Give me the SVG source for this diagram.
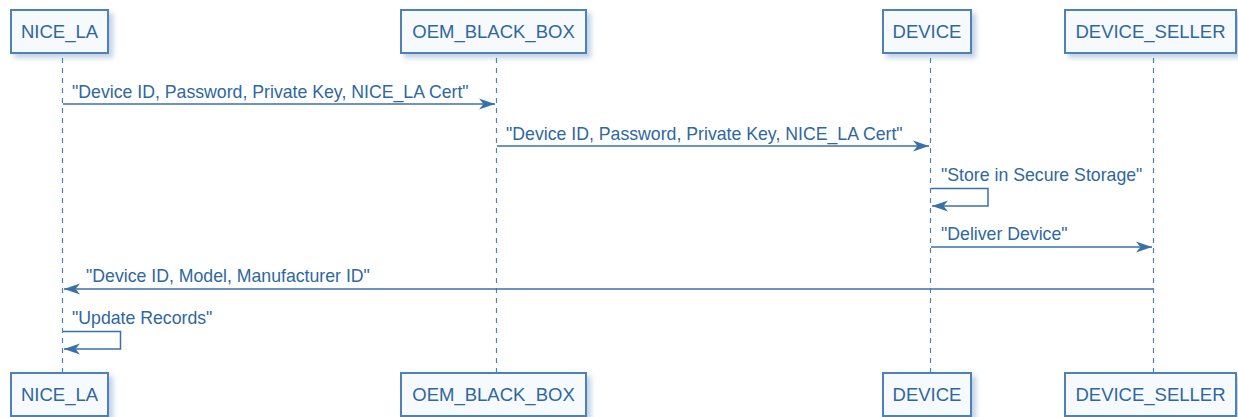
<svg xmlns="http://www.w3.org/2000/svg" width="1238" height="417" viewBox="0 0 1238 417">
<style>
.box{fill:#f7fafd;stroke:#4f81b5;stroke-width:2}
.pt{font-family:"Liberation Sans",Arial,sans-serif;font-size:18.5px;fill:#2f67a0;text-anchor:middle}
.life{stroke:#4f81b5;stroke-width:1.2;stroke-dasharray:5,5;fill:none}
.msg{stroke:#3a70a8;stroke-width:1.5;fill:none}
.ml{font-family:"Liberation Sans",Arial,sans-serif;font-size:17.7px;fill:#2f67a0}
</style>
<defs>
<filter id="sh" x="-20%" y="-30%" width="150%" height="180%">
<feGaussianBlur in="SourceAlpha" stdDeviation="2.5"/>
<feOffset dx="4" dy="4" result="b"/>
<feFlood flood-color="#4f81b5" flood-opacity="0.35"/>
<feComposite in2="b" operator="in"/>
<feMerge><feMergeNode/><feMergeNode in="SourceGraphic"/></feMerge>
</filter>
<marker id="ah" markerWidth="18" markerHeight="14" refX="16" refY="7" orient="auto" markerUnits="userSpaceOnUse">
<path d="M0,1.5 L16,7 L0,12.5 L4.5,7 Z" fill="#3a70a8"/>
</marker>
</defs>
<g id="lifelines">
<line class="life" x1="62.5" y1="58" x2="62.5" y2="372"/>
<line class="life" x1="496.5" y1="58" x2="496.5" y2="372"/>
<line class="life" x1="930.5" y1="58" x2="930.5" y2="372"/>
<line class="life" x1="1153.5" y1="58" x2="1153.5" y2="372"/>
</g>
<g id="NICE_LA">
<rect class="box" filter="url(#sh)" x="11" y="10" width="97" height="43"/>
<text class="pt" x="59.5" y="38">NICE_LA</text>
<rect class="box" filter="url(#sh)" x="11" y="373" width="97" height="43"/>
<text class="pt" x="59.5" y="401">NICE_LA</text>
</g>
<g id="OEM_BLACK_BOX">
<rect class="box" filter="url(#sh)" x="401" y="10" width="185" height="43"/>
<text class="pt" x="493.5" y="38">OEM_BLACK_BOX</text>
<rect class="box" filter="url(#sh)" x="401" y="373" width="185" height="43"/>
<text class="pt" x="493.5" y="401">OEM_BLACK_BOX</text>
</g>
<g id="DEVICE">
<rect class="box" filter="url(#sh)" x="883" y="10" width="88" height="43"/>
<text class="pt" x="927" y="38">DEVICE</text>
<rect class="box" filter="url(#sh)" x="883" y="373" width="88" height="43"/>
<text class="pt" x="927" y="401">DEVICE</text>
</g>
<g id="DEVICE_SELLER">
<rect class="box" filter="url(#sh)" x="1065" y="10" width="171" height="43"/>
<text class="pt" x="1150.5" y="38">DEVICE_SELLER</text>
<rect class="box" filter="url(#sh)" x="1065" y="373" width="171" height="43"/>
<text class="pt" x="1150.5" y="401">DEVICE_SELLER</text>
</g>
<g id="connectors">
<line class="msg" x1="63" y1="104" x2="495" y2="104" marker-end="url(#ah)"/>
<text class="ml" x="72" y="98">"Device ID, Password, Private Key, NICE_LA Cert"</text>
<line class="msg" x1="497" y1="146" x2="929" y2="146" marker-end="url(#ah)"/>
<text class="ml" x="506" y="140">"Device ID, Password, Private Key, NICE_LA Cert"</text>
<polyline class="msg" points="931,188.5 988,188.5 988,206 932,206" marker-end="url(#ah)"/>
<text class="ml" x="941" y="181">"Store in Secure Storage"</text>
<line class="msg" x1="931" y1="247" x2="1152" y2="247" marker-end="url(#ah)"/>
<text class="ml" x="941" y="240">"Deliver Device"</text>
<line class="msg" x1="1153" y1="289" x2="64" y2="289" marker-end="url(#ah)"/>
<text class="ml" x="86" y="282">"Device ID, Model, Manufacturer ID"</text>
<polyline class="msg" points="63,331.5 120.5,331.5 120.5,349 64,349" marker-end="url(#ah)"/>
<text class="ml" x="72" y="324">"Update Records"</text>
</g>
</svg>
